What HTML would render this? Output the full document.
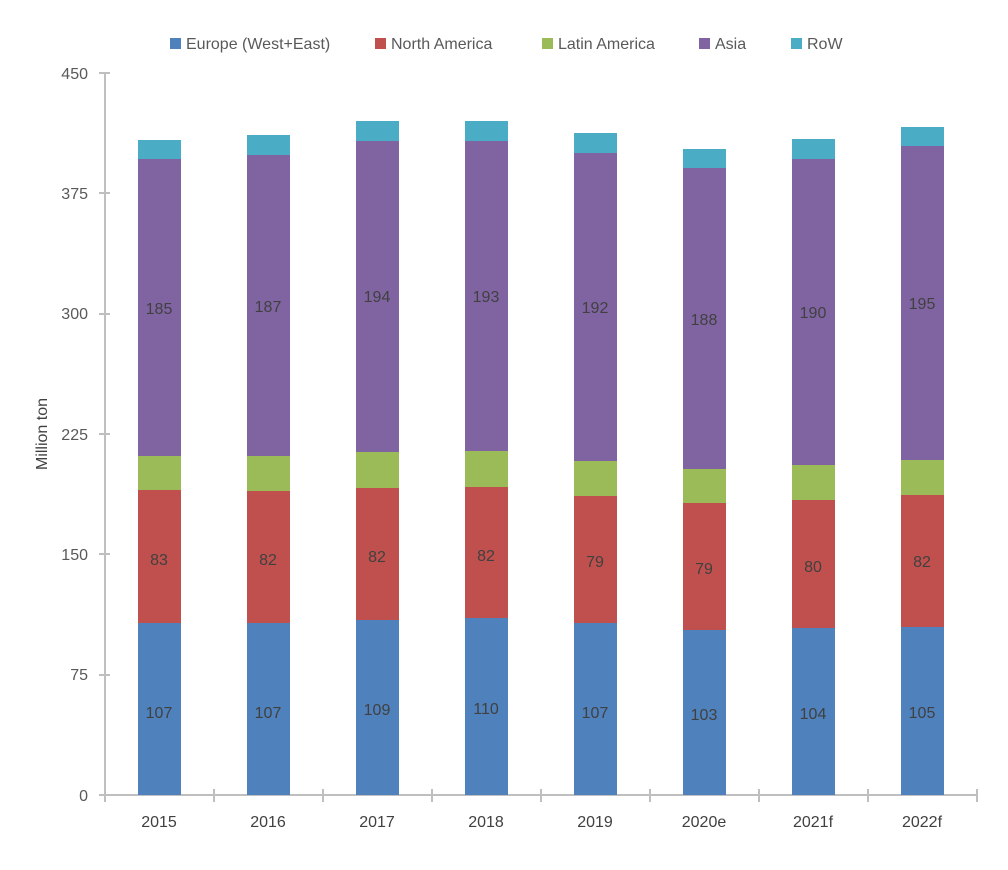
<!DOCTYPE html>
<html><head><meta charset="utf-8"><style>body{margin:0;background:#fff}svg{display:block;font-family:"Liberation Sans",Arial,sans-serif}</style></head><body>
<svg width="1008" height="870" viewBox="0 0 1008 870">
<g font-size="16" fill="#595959">
<rect x="170" y="38" width="11" height="11" fill="#4f81bd"/><text x="186" y="49">Europe (West+East)</text>
<rect x="375" y="38" width="11" height="11" fill="#c0504d"/><text x="391" y="49">North America</text>
<rect x="542" y="38" width="11" height="11" fill="#9bbb59"/><text x="558" y="49">Latin America</text>
<rect x="699" y="38" width="11" height="11" fill="#8064a2"/><text x="715" y="49">Asia</text>
<rect x="791" y="38" width="11" height="11" fill="#4bacc6"/><text x="807" y="49">RoW</text>
</g>
<g font-size="16" fill="#595959" text-anchor="end">
<text x="88" y="79">450</text><text x="88" y="199">375</text><text x="88" y="319">300</text><text x="88" y="440">225</text><text x="88" y="560">150</text><text x="88" y="680">75</text><text x="88" y="801">0</text>
</g>
<text transform="translate(47,434) rotate(-90)" font-size="16" fill="#404040" text-anchor="middle">Million ton</text>
<g stroke="#bfbfbf" stroke-width="2">
<line x1="105" y1="73" x2="105" y2="795"/>
<line x1="99" y1="73" x2="110" y2="73"/><line x1="99" y1="193" x2="110" y2="193"/><line x1="99" y1="314" x2="110" y2="314"/><line x1="99" y1="434" x2="110" y2="434"/><line x1="99" y1="554" x2="110" y2="554"/><line x1="99" y1="675" x2="110" y2="675"/>
<line x1="99" y1="795" x2="977" y2="795"/>
<line x1="105" y1="789" x2="105" y2="802"/><line x1="214" y1="789" x2="214" y2="802"/><line x1="323" y1="789" x2="323" y2="802"/><line x1="432" y1="789" x2="432" y2="802"/><line x1="541" y1="789" x2="541" y2="802"/><line x1="650" y1="789" x2="650" y2="802"/><line x1="759" y1="789" x2="759" y2="802"/><line x1="868" y1="789" x2="868" y2="802"/><line x1="977" y1="789" x2="977" y2="802"/>
</g>
<g id="bars"></g>
<g font-size="16" fill="#404040" text-anchor="middle">
<text x="159" y="827">2015</text><text x="268" y="827">2016</text><text x="377" y="827">2017</text><text x="486" y="827">2018</text><text x="595" y="827">2019</text><text x="704" y="827">2020e</text><text x="813" y="827">2021f</text><text x="922" y="827">2022f</text>
</g>
<g>
<!-- 2015 -->
<rect x="138" y="623" width="43" height="172" fill="#4f81bd"/><rect x="138" y="490" width="43" height="133" fill="#c0504d"/><rect x="138" y="456" width="43" height="34" fill="#9bbb59"/><rect x="138" y="159" width="43" height="297" fill="#8064a2"/><rect x="138" y="140" width="43" height="19" fill="#4bacc6"/>
<!-- 2016 -->
<rect x="247" y="623" width="43" height="172" fill="#4f81bd"/><rect x="247" y="491" width="43" height="132" fill="#c0504d"/><rect x="247" y="456" width="43" height="35" fill="#9bbb59"/><rect x="247" y="155" width="43" height="301" fill="#8064a2"/><rect x="247" y="135" width="43" height="20" fill="#4bacc6"/>
<!-- 2017 -->
<rect x="356" y="620" width="43" height="175" fill="#4f81bd"/><rect x="356" y="488" width="43" height="132" fill="#c0504d"/><rect x="356" y="452" width="43" height="36" fill="#9bbb59"/><rect x="356" y="141" width="43" height="311" fill="#8064a2"/><rect x="356" y="121" width="43" height="20" fill="#4bacc6"/>
<!-- 2018 -->
<rect x="465" y="618" width="43" height="177" fill="#4f81bd"/><rect x="465" y="487" width="43" height="131" fill="#c0504d"/><rect x="465" y="451" width="43" height="36" fill="#9bbb59"/><rect x="465" y="141" width="43" height="310" fill="#8064a2"/><rect x="465" y="121" width="43" height="20" fill="#4bacc6"/>
<!-- 2019 -->
<rect x="574" y="623" width="43" height="172" fill="#4f81bd"/><rect x="574" y="496" width="43" height="127" fill="#c0504d"/><rect x="574" y="461" width="43" height="35" fill="#9bbb59"/><rect x="574" y="153" width="43" height="308" fill="#8064a2"/><rect x="574" y="133" width="43" height="20" fill="#4bacc6"/>
<!-- 2020 -->
<rect x="683" y="630" width="43" height="165" fill="#4f81bd"/><rect x="683" y="503" width="43" height="127" fill="#c0504d"/><rect x="683" y="469" width="43" height="34" fill="#9bbb59"/><rect x="683" y="168" width="43" height="301" fill="#8064a2"/><rect x="683" y="149" width="43" height="19" fill="#4bacc6"/>
<!-- 2021 -->
<rect x="792" y="628" width="43" height="167" fill="#4f81bd"/><rect x="792" y="500" width="43" height="128" fill="#c0504d"/><rect x="792" y="465" width="43" height="35" fill="#9bbb59"/><rect x="792" y="159" width="43" height="306" fill="#8064a2"/><rect x="792" y="139" width="43" height="20" fill="#4bacc6"/>
<!-- 2022 -->
<rect x="901" y="627" width="43" height="168" fill="#4f81bd"/><rect x="901" y="495" width="43" height="132" fill="#c0504d"/><rect x="901" y="460" width="43" height="35" fill="#9bbb59"/><rect x="901" y="146" width="43" height="314" fill="#8064a2"/><rect x="901" y="127" width="43" height="19" fill="#4bacc6"/>
</g>
<g font-size="16" fill="#404040" text-anchor="middle">
<text x="159" y="718">107</text><text x="159" y="565">83</text><text x="159" y="314">185</text>
<text x="268" y="718">107</text><text x="268" y="565">82</text><text x="268" y="312">187</text>
<text x="377" y="715">109</text><text x="377" y="562">82</text><text x="377" y="302">194</text>
<text x="486" y="714">110</text><text x="486" y="561">82</text><text x="486" y="302">193</text>
<text x="595" y="718">107</text><text x="595" y="567">79</text><text x="595" y="313">192</text>
<text x="704" y="720">103</text><text x="704" y="574">79</text><text x="704" y="325">188</text>
<text x="813" y="719">104</text><text x="813" y="572">80</text><text x="813" y="318">190</text>
<text x="922" y="718">105</text><text x="922" y="567">82</text><text x="922" y="309">195</text>
</g>
</svg>
</body></html>
